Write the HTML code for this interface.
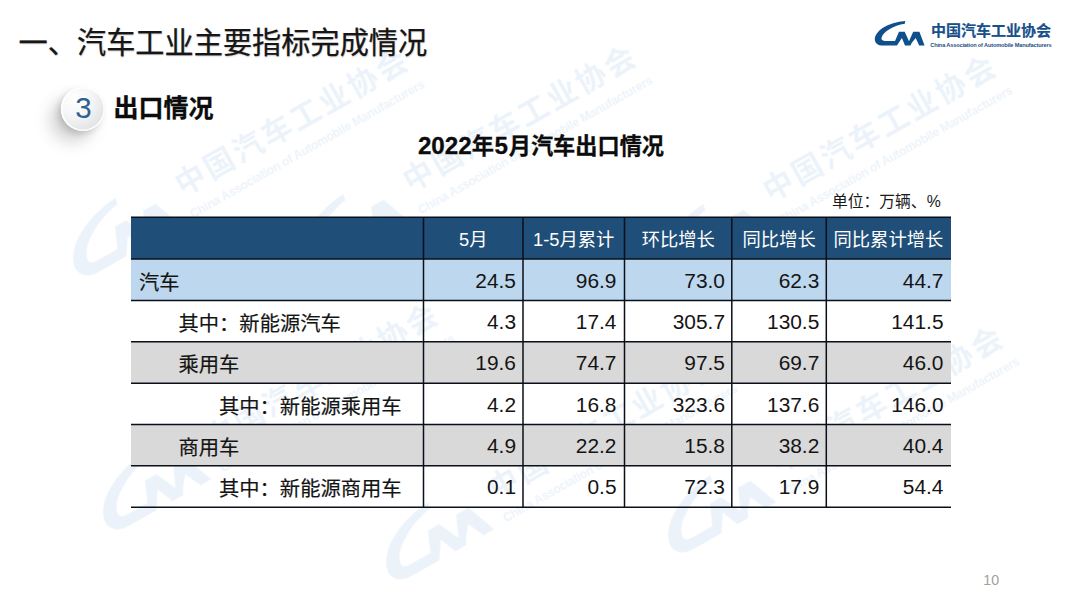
<!DOCTYPE html>
<html lang="zh-CN">
<head>
<meta charset="utf-8">
<title>汽车工业主要指标完成情况 - 出口情况</title>
<style>
  html, body { margin: 0; padding: 0; }
  body {
    width: 1080px; height: 607px; overflow: hidden; position: relative;
    background: #ffffff;
    font-family: "Liberation Sans", "Noto Sans CJK SC", sans-serif;
    color: #111;
  }
  .abs { position: absolute; white-space: nowrap; }

  /* ---------- headings ---------- */
  #title {
    left: 18.6px; top: 21.5px; height: 43px; line-height: 43px;
    font-size: 29.2px; color: #161616; -webkit-text-stroke: 0.25px #161616;
    text-shadow: 0.5px 1px 1.5px rgba(0,0,0,0.22);
  }
  #badge {
    left: 61px; top: 87px; width: 44px; height: 44px; border-radius: 50%;
    background: radial-gradient(circle at 32% 28%, #ffffff 0%, #f4f5f6 40%, #dcdee1 85%, #cfd2d6 100%);
    box-shadow: -11px 11px 16px rgba(0,0,0,0.17), -3px 3px 6px rgba(0,0,0,0.14), inset 0 0 0 1.5px rgba(255,255,255,0.95);
    text-align: center; line-height: 42px;
    font-size: 29.5px; color: #2e5f90; text-indent: 1px;
  }
  #sub {
    left: 113.5px; top: 90px; height: 36px; line-height: 36px;
    font-size: 25px; font-weight: 700; color: #0c0c0c; -webkit-text-stroke: 0.3px #0c0c0c;
  }
  #ttitle {
    left: 0; width: 1082px; top: 130px; height: 32px; line-height: 32px;
    text-align: center; font-size: 22.2px; font-weight: 700; color: #0c0c0c; -webkit-text-stroke: 0.3px #0c0c0c;
  }
  #ttitle b { font-size: 24.2px; font-weight: 700; }
  #ttitle b.m { margin: 0 0.7px; }
  #unit {
    right: 139.3px; top: 189.8px; height: 24px; line-height: 24px;
    font-size: 15.8px; color: #1a1a1a;
  }

  /* ---------- table ---------- */
  #tbl {
    position: absolute; left: 131px; top: 217px; width: 819.5px;
    border-collapse: collapse; table-layout: fixed;
    font-size: 20px; color: #141414;
  }
  #tbl td, #tbl th { padding: 0; margin: 0; font-weight: 400; overflow: hidden; white-space: nowrap; }
  #tbl td { padding-top: 2px; font-size: 20.3px; }
  #tbl tr { height: 41.37px; }
  #tbl tr.h { height: 42px; background: #1f4e79; }
  #tbl tr.h th { color: #ffffff; font-size: 18.3px; text-align: center; padding-top: 0.5px; }
  #tbl tr.b { background: #bdd7ee; }
  #tbl tr.g { background: #d9d9d9; }
  #tbl td.n { text-align: right; padding-right: 7px; font-size: 20.9px; }
  #tbl td.n2 { padding-right: 8px; }
  #tbl td.l0, #tbl td.l1, #tbl td.l2 { -webkit-text-stroke: 0.18px #141414; }
  #tbl td.l0 { text-align: left; padding-left: 8px; }
  #tbl td.l1 { text-align: left; padding-left: 47.5px; }
  #tbl td.l2 { text-align: left; padding-left: 88px; }
  #grid { position: absolute; left: 0; top: 0; width: 1080px; height: 607px; pointer-events: none; }

  /* ---------- logo ---------- */
  #logo { position: absolute; left: 0; top: 0; width: 1080px; height: 607px; }
  #lcn {
    left: 931px; top: 20px; height: 22px; line-height: 22px;
    font-size: 15px; font-weight: 700; color: #17508b; letter-spacing: 0px; -webkit-text-stroke: 0.2px #17508b;
  }
  #len {
    left: 930.3px; top: 40.7px; height: 9px; line-height: 9px;
    font-size: 5.6px; font-weight: 700; color: #1d4f85; letter-spacing: -0.145px;
  }
  #pnum {
    left: 983.3px; top: 571.2px; height: 18px; line-height: 18px;
    font-size: 14.2px; color: #a0a0a0;
  }

  /* ---------- watermarks ---------- */
  .wm {
    position: absolute; width: 420px; height: 64px; margin-top: -64px;
    transform-origin: 0 100%; transform: rotate(-29.5deg);
    color: #4f8fcf; opacity: var(--wmo, 0.105); filter: blur(0.6px); pointer-events: none; white-space: nowrap;
  }
  .wm svg { position: absolute; left: 0; bottom: 0; width: 114px; height: 58px; }
  .wm .c { position: absolute; left: 129px; bottom: 17px; font-size: 30px; line-height: 38px; font-weight: 700; letter-spacing: 3px; }
  .wm .e { position: absolute; left: 127px; bottom: -3px; font-size: 12.3px; line-height: 16px; font-weight: 700; letter-spacing: -0.3px; }
</style>
</head>
<body>
<!-- watermarks -->
<div id="wms">
<div class="wm" style="left:83.3px;top:281.7px"><svg viewBox="0 0 50 25"><path fill="currentColor" d="M30.4 0.1 C22.2 0.7 14.2 3 7.7 7.3 C3.2 10.5 0.2 14.6 0 18.1 C-0.1 21.8 2.7 24.8 8.2 24.8 L22.1 24.8 L27.1 17.2 L30.2 24.8 L35.6 24.8 L37 22 L40.9 17.2 L44.4 24.8 L49.8 24.8 L44.6 11 L38.4 11 L34.2 20.4 L29.9 11 L24.2 11 L20.2 20.1 L10.7 20.1 C7.8 20.1 6.2 19.2 6.7 17.3 C7.4 13.8 10.4 10.8 15 8.3 C19.2 5.8 24.2 3.9 30 3 Z"/></svg><div class="c">中国汽车工业协会</div><div class="e">China Association of Automobile Manufacturers</div></div>
<div class="wm" style="left:310.7px;top:278.3px"><svg viewBox="0 0 50 25"><path fill="currentColor" d="M30.4 0.1 C22.2 0.7 14.2 3 7.7 7.3 C3.2 10.5 0.2 14.6 0 18.1 C-0.1 21.8 2.7 24.8 8.2 24.8 L22.1 24.8 L27.1 17.2 L30.2 24.8 L35.6 24.8 L37 22 L40.9 17.2 L44.4 24.8 L49.8 24.8 L44.6 11 L38.4 11 L34.2 20.4 L29.9 11 L24.2 11 L20.2 20.1 L10.7 20.1 C7.8 20.1 6.2 19.2 6.7 17.3 C7.4 13.8 10.4 10.8 15 8.3 C19.2 5.8 24.2 3.9 30 3 Z"/></svg><div class="c">中国汽车工业协会</div><div class="e">China Association of Automobile Manufacturers</div></div>
<div class="wm" style="left:671.4px;top:288.1px"><svg viewBox="0 0 50 25"><path fill="currentColor" d="M30.4 0.1 C22.2 0.7 14.2 3 7.7 7.3 C3.2 10.5 0.2 14.6 0 18.1 C-0.1 21.8 2.7 24.8 8.2 24.8 L22.1 24.8 L27.1 17.2 L30.2 24.8 L35.6 24.8 L37 22 L40.9 17.2 L44.4 24.8 L49.8 24.8 L44.6 11 L38.4 11 L34.2 20.4 L29.9 11 L24.2 11 L20.2 20.1 L10.7 20.1 C7.8 20.1 6.2 19.2 6.7 17.3 C7.4 13.8 10.4 10.8 15 8.3 C19.2 5.8 24.2 3.9 30 3 Z"/></svg><div class="c">中国汽车工业协会</div><div class="e">China Association of Automobile Manufacturers</div></div>
<div class="wm" style="left:113px;top:536px"><svg viewBox="0 0 50 25"><path fill="currentColor" d="M30.4 0.1 C22.2 0.7 14.2 3 7.7 7.3 C3.2 10.5 0.2 14.6 0 18.1 C-0.1 21.8 2.7 24.8 8.2 24.8 L22.1 24.8 L27.1 17.2 L30.2 24.8 L35.6 24.8 L37 22 L40.9 17.2 L44.4 24.8 L49.8 24.8 L44.6 11 L38.4 11 L34.2 20.4 L29.9 11 L24.2 11 L20.2 20.1 L10.7 20.1 C7.8 20.1 6.2 19.2 6.7 17.3 C7.4 13.8 10.4 10.8 15 8.3 C19.2 5.8 24.2 3.9 30 3 Z"/></svg><div class="c">中国汽车工业协会</div><div class="e">China Association of Automobile Manufacturers</div></div>
<div class="wm" style="left:395.5px;top:586px"><svg viewBox="0 0 50 25"><path fill="currentColor" d="M30.4 0.1 C22.2 0.7 14.2 3 7.7 7.3 C3.2 10.5 0.2 14.6 0 18.1 C-0.1 21.8 2.7 24.8 8.2 24.8 L22.1 24.8 L27.1 17.2 L30.2 24.8 L35.6 24.8 L37 22 L40.9 17.2 L44.4 24.8 L49.8 24.8 L44.6 11 L38.4 11 L34.2 20.4 L29.9 11 L24.2 11 L20.2 20.1 L10.7 20.1 C7.8 20.1 6.2 19.2 6.7 17.3 C7.4 13.8 10.4 10.8 15 8.3 C19.2 5.8 24.2 3.9 30 3 Z"/></svg><div class="c">中国汽车工业协会</div><div class="e">China Association of Automobile Manufacturers</div></div>
<div class="wm" style="left:678px;top:559px"><svg viewBox="0 0 50 25"><path fill="currentColor" d="M30.4 0.1 C22.2 0.7 14.2 3 7.7 7.3 C3.2 10.5 0.2 14.6 0 18.1 C-0.1 21.8 2.7 24.8 8.2 24.8 L22.1 24.8 L27.1 17.2 L30.2 24.8 L35.6 24.8 L37 22 L40.9 17.2 L44.4 24.8 L49.8 24.8 L44.6 11 L38.4 11 L34.2 20.4 L29.9 11 L24.2 11 L20.2 20.1 L10.7 20.1 C7.8 20.1 6.2 19.2 6.7 17.3 C7.4 13.8 10.4 10.8 15 8.3 C19.2 5.8 24.2 3.9 30 3 Z"/></svg><div class="c">中国汽车工业协会</div><div class="e">China Association of Automobile Manufacturers</div></div>
</div>


<div id="title" class="abs">一、汽车工业主要指标完成情况</div>

<div id="badge" class="abs">3</div>
<div id="sub" class="abs">出口情况</div>

<div id="ttitle" class="abs"><b>2022</b>年<b class="m">5</b>月汽车出口情况</div>
<div id="unit" class="abs">单位：万辆、%</div>

<table id="tbl">
  <colgroup>
    <col style="width:292.5px"><col style="width:99.5px"><col style="width:101.5px">
    <col style="width:107.5px"><col style="width:94.3px"><col style="width:124.2px">
  </colgroup>
  <tr class="h"><th></th><th>5月</th><th>1-5月累计</th><th>环比增长</th><th>同比增长</th><th>同比累计增长</th></tr>
  <tr class="b"><td class="l0">汽车</td><td class="n">24.5</td><td class="n n2">96.9</td><td class="n">73.0</td><td class="n">62.3</td><td class="n">44.7</td></tr>
  <tr><td class="l1">其中：新能源汽车</td><td class="n">4.3</td><td class="n n2">17.4</td><td class="n">305.7</td><td class="n">130.5</td><td class="n">141.5</td></tr>
  <tr class="g"><td class="l1">乘用车</td><td class="n">19.6</td><td class="n n2">74.7</td><td class="n">97.5</td><td class="n">69.7</td><td class="n">46.0</td></tr>
  <tr><td class="l2">其中：新能源乘用车</td><td class="n">4.2</td><td class="n n2">16.8</td><td class="n">323.6</td><td class="n">137.6</td><td class="n">146.0</td></tr>
  <tr class="g"><td class="l1">商用车</td><td class="n">4.9</td><td class="n n2">22.2</td><td class="n">15.8</td><td class="n">38.2</td><td class="n">40.4</td></tr>
  <tr><td class="l2">其中：新能源商用车</td><td class="n">0.1</td><td class="n n2">0.5</td><td class="n">72.3</td><td class="n">17.9</td><td class="n">54.4</td></tr>
</table>

<!-- table rules -->
<svg id="grid" viewBox="0 0 1080 607">
  <g stroke="#0b0f18" stroke-width="1.5" fill="none">
    <path d="M131 217.2H951M131 259H951M131 300.6H951M131 341.8H951M131 383.2H951M131 424.4H951M131 465.7H951M131 507.2H951"/>
    <path d="M423.5 217V507.5M523 217V507.5M624.5 217V507.5M731.8 217V507.5M826.3 217V507.5"/>
  </g>
</svg>

<!-- logo -->
<svg id="logo" viewBox="0 0 1080 607">
  <path fill="#0f4f8c" d="M905.2 20.9 C897 21.5 889 23.8 882.5 28.1 C878 31.3 875 35.4 874.8 38.9 C874.7 42.6 877.5 45.6 883 45.6 L896.9 45.6 L901.9 38 L905 45.6 L910.4 45.6 L911.8 42.8 L915.7 38 L919.2 45.6 L924.6 45.6 L919.4 31.8 L913.2 31.8 L909 41.2 L904.7 31.8 L899 31.8 L895 40.9 L885.5 40.9 C882.6 40.9 881 40 881.5 38.1 C882.2 34.6 885.2 31.6 889.8 29.1 C894 26.6 899 24.7 904.8 23.8 Z"/>
</svg>
<div id="lcn" class="abs">中国汽车工业协会</div>
<div id="len" class="abs">China Association of Automobile Manufacturers</div>

<div id="pnum" class="abs">10</div>


</body>
</html>
